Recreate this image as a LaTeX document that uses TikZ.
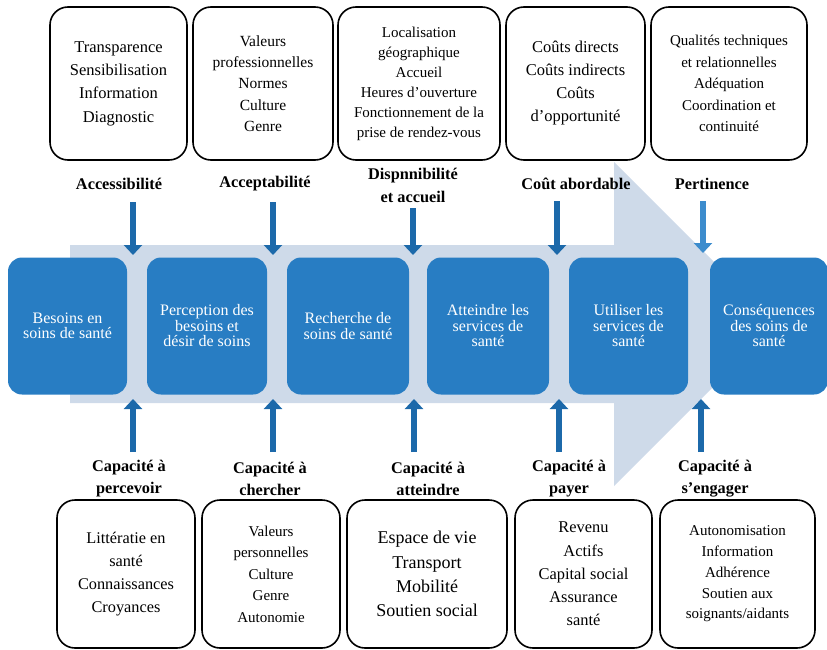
\documentclass[tikz,border=0pt]{standalone}
\usepackage{fontspec}
\setmainfont{Liberation Serif}
\usetikzlibrary{arrows.meta}
\definecolor{stageblue}{RGB}{40,125,195}
\definecolor{pushblue}{RGB}{28,105,170}
\definecolor{pushlight}{RGB}{60,140,205}
\definecolor{flowgray}{RGB}{206,218,233}

\begin{document}
\begin{tikzpicture}[x=1pt, y=-1pt,
  factor/.style={draw, line width=1.6pt, rounded corners=18pt, align=center, inner sep=2pt},
  stage/.style={fill=stageblue, text=white, rounded corners=14pt, minimum height=137pt, align=center, inner sep=1pt, font=\fontsize{16}{15.5}\selectfont},
  dim/.style={align=center, font=\bfseries\fontsize{16.3}{23}\selectfont},
  push/.style={pushblue, line width=6pt, -{Triangle[width=18pt,length=10pt]}}]
\useasboundingbox (0,0) rectangle (827,650);

% Large background arrow
\fill[flowgray] (70,245) -- (614,245) -- (614,162) -- (776,324) -- (614,486) -- (614,403) -- (70,403) -- cycle;

% Stages of access
\node[stage, minimum width=119pt] (need) at (67.5,326) {Besoins en\\soins de santé};
\node[stage, minimum width=120pt] (perc) at (207,326) {Perception des\\besoins et\\désir de soins};
\node[stage, minimum width=122pt] (seek) at (348,326) {Recherche de\\soins de santé};
\node[stage, minimum width=122pt] (reach) at (488,326) {Atteindre les\\services de\\santé};
\node[stage, minimum width=119pt] (use) at (628.5,326) {Utiliser les\\services de\\santé};
\node[stage, minimum width=118pt] (cons) at (769,326) {Conséquences\\des soins de\\santé};

% Supply side: boxes
\node[factor, minimum width=137pt, minimum height=153pt, font=\fontsize{16.5}{23.3}\selectfont] (facc) at (118.5,83.5) {Transparence\\Sensibilisation\\Information\\Diagnostic};
\node[factor, minimum width=140pt, minimum height=153pt, font=\fontsize{15.5}{21.3}\selectfont] (facp) at (263,83.5) {Valeurs\\professionnelles\\Normes\\Culture\\Genre};
\node[factor, minimum width=162pt, minimum height=153pt, font=\fontsize{15}{20}\selectfont] (fdis) at (419,83.5) {Localisation\\géographique\\Accueil\\Heures d’ouverture\\Fonctionnement de la\\prise de rendez-vous};
\node[factor, minimum width=139pt, minimum height=153pt, font=\fontsize{16.5}{23}\selectfont] (fcou) at (575.5,83.5) {Coûts directs\\Coûts indirects\\Coûts\\d’opportunité};
\node[factor, minimum width=156pt, minimum height=153pt, font=\fontsize{15}{21.5}\selectfont] (fper) at (729,83.5) {Qualités techniques\\et relationnelles\\Adéquation\\Coordination et\\continuité};

% Supply side: dimensions
\node[dim] (dacc) at (119,184) {Accessibilité};
\node[dim] (dacp) at (265,184) {Acceptabilité};
\node[dim] (ddis) at (413,185) {Dispnnibilité\\et accueil};
\node[dim] (dcou) at (576,184) {Coût abordable};
\node[dim] (dper) at (712,184) {Pertinence};

% Demand side: abilities
\node[dim, font=\bfseries\fontsize{16.3}{22}\selectfont] (aper) at (129,479) {Capacité à\\percevoir};
\node[dim, font=\bfseries\fontsize{16.3}{22}\selectfont] (ache) at (270,479) {Capacité à\\chercher};
\node[dim, font=\bfseries\fontsize{16.3}{22}\selectfont] (aatt) at (428,479) {Capacité à\\atteindre};
\node[dim, font=\bfseries\fontsize{16.3}{22}\selectfont] (apay) at (569,479) {Capacité à\\payer};
\node[dim, font=\bfseries\fontsize{16.3}{22}\selectfont] (aeng) at (715,479) {Capacité à\\s’engager};

% Demand side: boxes
\node[factor, minimum width=138pt, minimum height=148pt, font=\fontsize{16.3}{23}\selectfont] (bper) at (126,574) {Littératie en\\santé\\Connaissances\\Croyances};
\node[factor, minimum width=138pt, minimum height=148pt, font=\fontsize{15}{21.5}\selectfont] (bche) at (271,574) {Valeurs\\personnelles\\Culture\\Genre\\Autonomie};
\node[factor, minimum width=160pt, minimum height=148pt, font=\fontsize{18}{24.3}\selectfont] (batt) at (427,574) {Espace de vie\\Transport\\Mobilité\\Soutien social};
\node[factor, minimum width=137pt, minimum height=148pt, font=\fontsize{16.4}{23.2}\selectfont] (bpay) at (583.5,574) {Revenu\\Actifs\\Capital social\\Assurance\\santé};
\node[factor, minimum width=155pt, minimum height=148pt, font=\fontsize{15}{20.7}\selectfont] (beng) at (737.5,574) {Autonomisation\\Information\\Adhérence\\Soutien aux\\soignants/aidants};

% Arrows from above
\coordinate (ts1) at (133,202); \coordinate (te1) at (133,255);
\coordinate (ts2) at (273,202); \coordinate (te2) at (273,255);
\coordinate (ts3) at (413,208); \coordinate (te3) at (413,255);
\coordinate (ts4) at (557,201); \coordinate (te4) at (557,255);
\coordinate (ts5) at (703,201); \coordinate (te5) at (703,253);
\draw[push] (ts1) -- (te1);
\draw[push] (ts2) -- (te2);
\draw[push] (ts3) -- (te3);
\draw[push] (ts4) -- (te4);
\draw[push, pushlight] (ts5) -- (te5);

% Arrows from below
\coordinate (bs1) at (133,452); \coordinate (be1) at (133,399);
\coordinate (bs2) at (273,452); \coordinate (be2) at (273,399);
\coordinate (bs3) at (414,452); \coordinate (be3) at (414,399);
\coordinate (bs4) at (559,452); \coordinate (be4) at (559,399);
\coordinate (bs5) at (701,452); \coordinate (be5) at (701,399);
\draw[push] (bs1) -- (be1);
\draw[push] (bs2) -- (be2);
\draw[push] (bs3) -- (be3);
\draw[push] (bs4) -- (be4);
\draw[push] (bs5) -- (be5);
\end{tikzpicture}
\end{document}
